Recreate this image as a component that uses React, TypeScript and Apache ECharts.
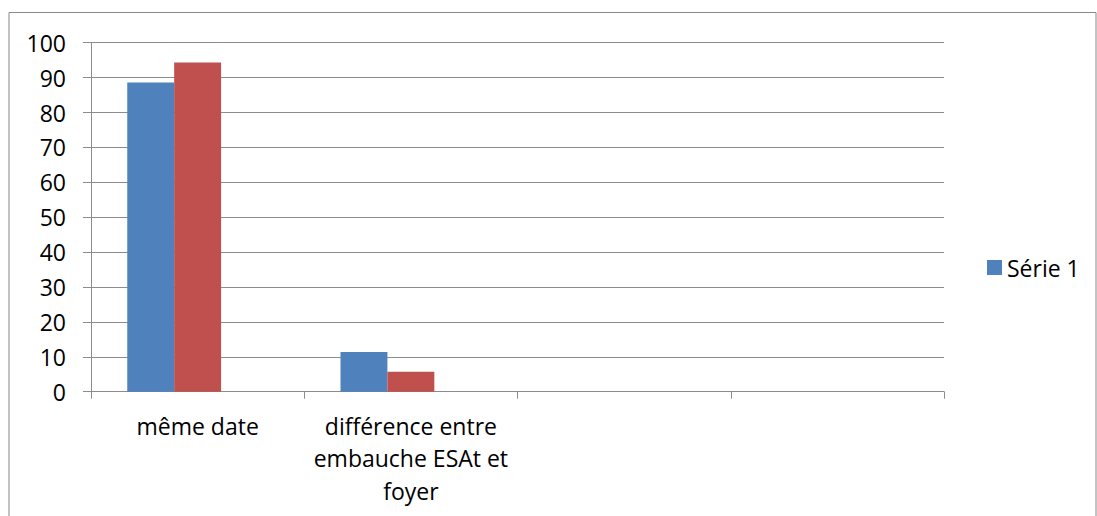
import React, { useEffect, useRef } from "react";
import * as echarts from "echarts";

// Category labels (two empty slots on the right), series values and axis ticks
const categories = [
  "même date",
  "différence entre\nembauche ESAt et\nfoyer",
  "",
  "",
];
const serie1 = [88.6, 11.4, null, null];
const serie2 = [94.3, 5.7, null, null];
const serie3 = [null, null, null, null];
const yMin = 0;
const yMax = 100;
const yStep = 10;

const FONT = "Open Sans";
const FONT_SIZE = 23;
const GRID_GRAY = "#8c8c8c";

export default function App() {
  const ref = useRef<HTMLDivElement>(null);

  useEffect(() => {
    if (!ref.current) return;
    const chart = echarts.init(ref.current, undefined, { renderer: "svg" });
    const barBase = { type: "bar", barGap: "0%", barCategoryGap: "34%" };
    chart.setOption({
      animation: false,
      backgroundColor: "#ffffff",
      textStyle: { fontFamily: FONT },
      graphic: [
        {
          type: "rect",
          shape: { x: 9, y: 12.5, width: 1087, height: 520 },
          style: { fill: "none", stroke: "#888888", lineWidth: 1 },
          silent: true,
        },
      ],
      grid: { left: 91, top: 42.7, right: 153, bottom: 124.3, containLabel: false },
      legend: {
        data: ["Série 1"],
        orient: "vertical",
        left: 987,
        top: 256,
        padding: 0,
        itemWidth: 15,
        itemHeight: 15,
        itemGap: 6,
        textStyle: { fontFamily: FONT, fontSize: FONT_SIZE, color: "#000", padding: [0, 0, 0, 0] },
        icon: "rect",
      },
      xAxis: {
        type: "category",
        data: categories,
        axisLine: { lineStyle: { color: GRID_GRAY, width: 1 } },
        axisTick: { show: true, length: 7, alignWithLabel: false, lineStyle: { color: GRID_GRAY } },
        axisLabel: {
          interval: 0,
          color: "#000",
          fontFamily: FONT,
          fontSize: FONT_SIZE,
          lineHeight: 32.5,
          margin: 18,
        },
      },
      yAxis: {
        type: "value",
        min: yMin,
        max: yMax,
        interval: yStep,
        axisLine: { show: true, lineStyle: { color: GRID_GRAY, width: 1 } },
        axisTick: { show: true, length: 8, lineStyle: { color: GRID_GRAY } },
        splitLine: { show: true, lineStyle: { color: GRID_GRAY, width: 1 } },
        axisLabel: { color: "#000", fontFamily: FONT, fontSize: FONT_SIZE, margin: 25 },
      },
      series: [
        { ...barBase, name: "Série 1", data: serie1, itemStyle: { color: "#4f81bd" } },
        { ...barBase, name: "Série 2", data: serie2, itemStyle: { color: "#c0504d" } },
        { ...barBase, name: "Série 3", data: serie3, itemStyle: { color: "#9bbb59" } },
      ],
    });
    return () => chart.dispose();
  }, []);

  return (
    <div
      ref={ref}
      style={{ position: "fixed", left: 0, top: 0, width: 1097, height: 516 }}
    />
  );
}
